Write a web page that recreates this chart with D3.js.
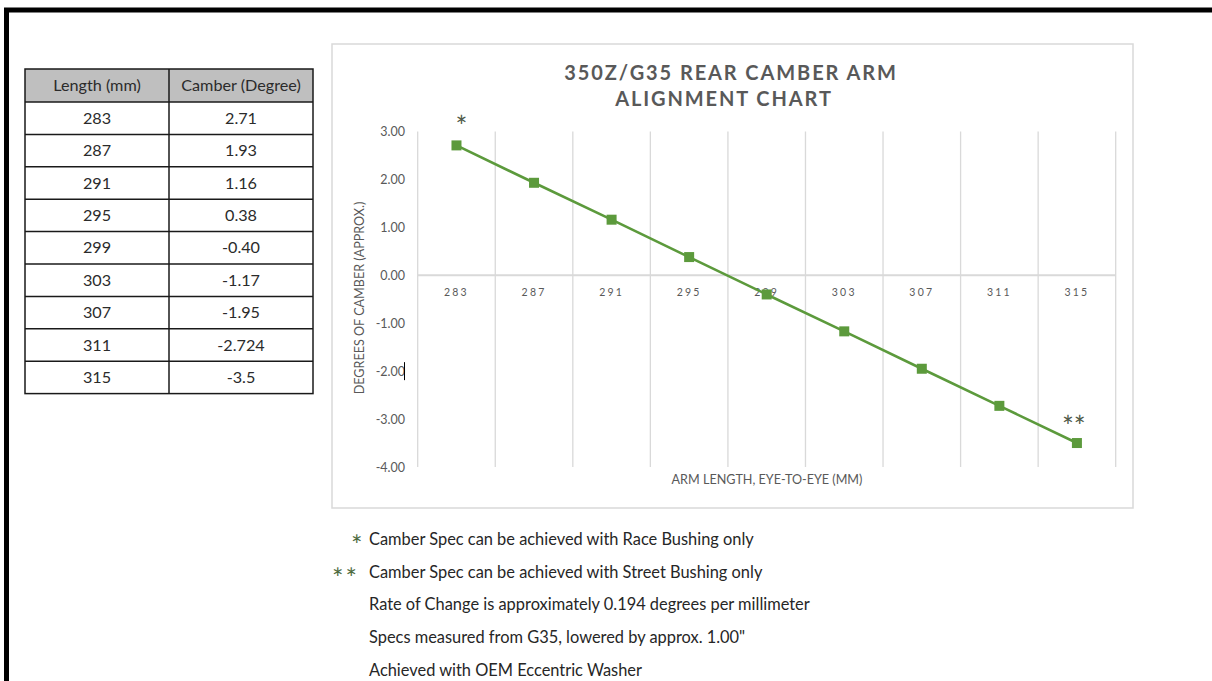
<!DOCTYPE html>
<html><head><meta charset="utf-8">
<script src="https://cdn.jsdelivr.net/npm/d3@7/dist/d3.min.js"></script>
<style>
html,body{margin:0;padding:0;background:#fff;}
svg{display:block;}
text{font-family:Lato,"Open Sans",sans-serif;}
</style></head>
<body><svg id="c" width="1212" height="681"></svg>
<script>
const lengths = [283, 287, 291, 295, 299, 303, 307, 311, 315];
const camber = [2.71, 1.93, 1.16, 0.38, -0.40, -1.17, -1.95, -2.724, -3.5];
const camberLabels = ["2.71", "1.93", "1.16", "0.38", "-0.40", "-1.17", "-1.95", "-2.724", "-3.5"];
const tableHeaders = ["Length (mm)", "Camber (Degree)"];
const yTicks = [3, 2, 1, 0, -1, -2, -3, -4];
const titleLines = ["350Z/G35 REAR CAMBER ARM", "ALIGNMENT CHART"];
const yTitle = "DEGREES OF CAMBER (APPROX.)";
const xTitle = "ARM LENGTH, EYE-TO-EYE (MM)";
const notes = [
  {mark: "*", text: "Camber Spec can be achieved with Race Bushing only"},
  {mark: "**", text: "Camber Spec can be achieved with Street Bushing only"},
  {mark: "", text: "Rate of Change is approximately 0.194 degrees per millimeter"},
  {mark: "", text: "Specs measured from G35, lowered by approx. 1.00\""},
  {mark: "", text: "Achieved with OEM Eccentric Washer"}
];
const pointMarks = {283: "*", 315: "**"};

const svg = d3.select("#c");
svg.append("rect").attr("width",1212).attr("height",681).attr("fill","#fff");

// outer black frame (top + left)
svg.append("rect").attr("x",6.5).attr("y",10).attr("width",1212).attr("height",700)
  .attr("fill","none").attr("stroke","#000").attr("stroke-width",5);

// ---- table ----
const tx0 = 25, tcol = 169, tx1 = 313, ty0 = 69, hh = 33, rh = 32.4;
const tfs = 16.2;
const tg = svg.append("g");
tg.append("rect").attr("x",tx0).attr("y",ty0).attr("width",tx1-tx0).attr("height",hh).attr("fill","#bfbfbf");
tableHeaders.forEach((h,i)=>{
  tg.append("text").attr("x", i===0 ? (tx0+tcol)/2 : (tcol+tx1)/2).attr("y", ty0+hh/2+5.5)
    .attr("text-anchor","middle").attr("font-size",tfs).attr("fill","#2b2b2b").text(h);
});
lengths.forEach((L,i)=>{
  const yy = ty0+hh+i*rh;
  tg.append("text").attr("x",(tx0+tcol)/2).attr("y",yy+rh/2+5.5).attr("text-anchor","middle")
    .attr("font-size",tfs).attr("fill","#2b2b2b").text(L);
  tg.append("text").attr("x",(tcol+tx1)/2).attr("y",yy+rh/2+5.5).attr("text-anchor","middle")
    .attr("font-size",tfs).attr("fill","#2b2b2b").text(camberLabels[i]);
  tg.append("line").attr("x1",tx0).attr("x2",tx1).attr("y1",yy).attr("y2",yy)
    .attr("stroke","#1a1a1a").attr("stroke-width",1.5);
});
tg.append("rect").attr("x",tx0).attr("y",ty0).attr("width",tx1-tx0).attr("height",hh+lengths.length*rh)
  .attr("fill","none").attr("stroke","#1a1a1a").attr("stroke-width",1.5);
tg.append("line").attr("x1",tcol).attr("x2",tcol).attr("y1",ty0).attr("y2",ty0+hh+lengths.length*rh)
  .attr("stroke","#1a1a1a").attr("stroke-width",1.5);

// ---- chart box ----
svg.append("rect").attr("x",332).attr("y",44).attr("width",801).attr("height",464)
  .attr("fill","#fff").attr("stroke","#d9d9d9").attr("stroke-width",1.5);

const x = d3.scaleBand().domain(lengths).range([417.7, 1115.7]);
const y = d3.scaleLinear().domain([-4, 3]).range([467, 131.5]);

// vertical gridlines at category boundaries
const bounds = lengths.map(d=>x(d)).concat([x.range()[1]]);
svg.append("g").selectAll("line").data(bounds).join("line")
  .attr("x1",d=>d).attr("x2",d=>d).attr("y1",y(3)).attr("y2",y(-4))
  .attr("stroke","#d9d9d9").attr("stroke-width",1.3);

// zero axis line
svg.append("line").attr("x1",x.range()[0]).attr("x2",x.range()[1]).attr("y1",y(0)).attr("y2",y(0))
  .attr("stroke","#d9d9d9").attr("stroke-width",2);

// y axis labels
const yAxis = d3.axisLeft(y).tickValues(yTicks).tickFormat(d=>d.toFixed(2)).tickSize(0).tickPadding(0);
const yg = svg.append("g").attr("transform","translate(405,0)").call(yAxis);
yg.select(".domain").remove();
yg.selectAll("text").attr("font-family","Lato, 'Open Sans', sans-serif").attr("font-size",12.5).attr("fill","#595959").attr("dy","0.35em");

// x axis labels
const xAxis = d3.axisBottom(x).tickSize(0).tickPadding(0);
const xg = svg.append("g").attr("transform",`translate(0,${y(0)+17})`).call(xAxis);
xg.select(".domain").remove();
xg.selectAll("text").attr("font-family","'DejaVu Sans', sans-serif").attr("font-size",10.5).attr("fill","#595959")
  .attr("letter-spacing","2.2px").attr("dy","0.35em");

// axis titles
svg.append("text").attr("transform","translate(364,298) rotate(-90)").attr("text-anchor","middle")
  .attr("font-size",12.6).attr("fill","#595959").text(yTitle);
svg.append("text").attr("x",767).attr("y",484).attr("text-anchor","middle")
  .attr("font-size",12.6).attr("fill","#595959").text(xTitle);

// title
svg.append("text").attr("x",731).attr("y",80).attr("text-anchor","middle").attr("font-size",20)
  .attr("font-weight","bold").attr("letter-spacing","1.9px").attr("fill","#595959").text(titleLines[0]);
svg.append("text").attr("x",724).attr("y",105.5).attr("text-anchor","middle").attr("font-size",20)
  .attr("font-weight","bold").attr("letter-spacing","1.9px").attr("fill","#595959").text(titleLines[1]);

// series
const cx = d => x(d) + x.bandwidth()/2;
const pts = lengths.map((L,i)=>({L, v: camber[i]}));
svg.append("path").datum(pts)
  .attr("d", d3.line().x(d=>cx(d.L)).y(d=>y(d.v)))
  .attr("fill","none").attr("stroke","#5c9a3c").attr("stroke-width",2.6);
svg.append("g").selectAll("rect").data(pts).join("rect")
  .attr("x",d=>cx(d.L)-5).attr("y",d=>y(d.v)-5).attr("width",10).attr("height",10)
  .attr("fill","#5c9a3c");

// asterisk annotations
svg.append("g").selectAll("text").data(pts.filter(d=>pointMarks[d.L])).join("text")
  .attr("x",d=>cx(d.L)+(d.L===283?-1:-15)).attr("y",d=>y(d.v)+(d.L===283?-8:-6))
  .attr("text-anchor","start").attr("font-family","'DejaVu Sans', sans-serif").attr("font-size",28)
  .attr("letter-spacing",d=>d.L===315?"0px":"0px").attr("fill","#4f5a48").text(d=>pointMarks[d.L]);

// cursor artifact next to -2.00
svg.append("line").attr("x1",404.5).attr("x2",404.5).attr("y1",y(-2)-9).attr("y2",y(-2)+9)
  .attr("stroke","#000").attr("stroke-width",1);

// footnotes
const ng = svg.append("g");
notes.forEach((n,i)=>{
  const by = 545 + i*32.7;
  if(n.mark){
    ng.append("text").attr("x", n.mark.length===1 ? 351 : 332).attr("y",by+10).attr("text-anchor","start")
      .attr("font-family","'DejaVu Sans', sans-serif").attr("font-size",27).attr("letter-spacing","2px")
      .attr("fill","#4d6a3e").text(n.mark);
  }
  ng.append("text").attr("x",369).attr("y",by).attr("font-size",16.4).attr("fill","#262626").text(n.text);
});
</script></body></html>
